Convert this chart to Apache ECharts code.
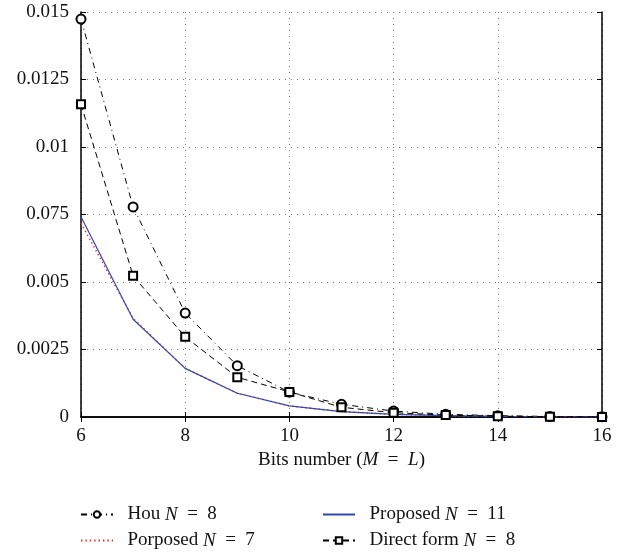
<!DOCTYPE html>
<html><head><meta charset="utf-8">
<script src="https://cdn.jsdelivr.net/npm/echarts@6/dist/echarts.min.js"></script>
<style>html,body{margin:0;padding:0;background:#fff}#c{width:622px;height:556px}</style>
</head><body><div id="c"></div>
<script>
const bits = [6, 7, 8, 9, 10, 11, 12, 13, 14, 15, 16];
const houN8 = [0.01474, 0.00778, 0.00385, 0.00190, 0.00092, 0.00047, 0.00022, 0.00010, 0.00005, 0.00002, 0.00001];
const porposedN7 = [0.00718, 0.00365, 0.00180, 0.00088, 0.00041, 0.00020, 0.00010, 0.00005, 0.00002, 0.00001, 0.00000];
const proposedN11 = [0.00742, 0.00362, 0.00180, 0.00088, 0.00041, 0.00020, 0.00010, 0.00005, 0.00002, 0.00001, 0.00000];
const directN8 = [0.01158, 0.00523, 0.00297, 0.00147, 0.00093, 0.00036, 0.00016, 0.00007, 0.00003, 0.00001, 0.00000];
const yTickLabels = ['0', '0.0025', '0.005', '0.075', '0.01', '0.0125', '0.015'];

const pairs = arr => bits.map((b, i) => [b, arr[i]]);
const FONT = '"Liberation Serif", "DejaVu Serif", serif';
const FS = 19;
const rich = { i: { fontStyle: 'italic', fontFamily: FONT, fontSize: FS, color: '#111' } };
const fmt = n => '\u2002' + n.replace('N', '{i|N}').replace(' = ', '\u2002=\u2002');

const chart = echarts.init(document.getElementById('c'), null, { renderer: 'canvas' });
const gridLine = { show: true, lineStyle: { color: '#777', type: [1, 5], width: 1 } };
const frameAxis = {
  axisLine: { show: true, lineStyle: { color: '#000', width: 1.5 } },
  axisTick: { show: true, inside: true, length: 5, lineStyle: { color: '#000' } }
};
const legendCommon = {
  orient: 'vertical', top: 505, height: 60, padding: 0, itemGap: 7, itemWidth: 32, itemHeight: 8,
  textStyle: { color: '#111', fontFamily: FONT, fontSize: FS, rich: rich },
  formatter: fmt
};
chart.setOption({
  animation: false,
  backgroundColor: '#fff',
  grid: { left: 81, right: 20, top: 12, bottom: 139 },
  xAxis: [Object.assign({
    type: 'value', min: 6, max: 16, interval: 2,
    axisLabel: { color: '#111', fontFamily: FONT, fontSize: FS, margin: 10 },
    splitLine: gridLine,
    name: 'Bits number ({i|M}\u2002=\u2002{i|L})', nameLocation: 'middle', nameGap: 30,
    nameTextStyle: { color: '#111', fontFamily: FONT, fontSize: FS, rich: rich }
  }, frameAxis), Object.assign({
    type: 'value', min: 6, max: 16, interval: 2, position: 'top',
    axisLabel: { show: false }, splitLine: { show: false }
  }, frameAxis)],
  yAxis: [Object.assign({
    type: 'value', min: 0, max: 0.015, interval: 0.0025,
    axisLabel: {
      color: '#111', fontFamily: FONT, fontSize: FS, margin: 12,
      formatter: v => yTickLabels[Math.round(v / 0.0025)]
    },
    splitLine: gridLine
  }, frameAxis), Object.assign({
    type: 'value', min: 0, max: 0.015, interval: 0.0025, position: 'right',
    axisLabel: { show: false }, splitLine: { show: false }
  }, frameAxis)],
  legend: [Object.assign({
    data: ['Hou N = 8', 'Porposed N = 7'], left: 80
  }, legendCommon), Object.assign({
    data: ['Proposed N = 11', 'Direct form N = 8'], left: 322
  }, legendCommon)],
  series: [{
    name: 'Hou N = 8', type: 'line', data: pairs(houN8),
    symbol: 'emptyCircle', symbolSize: 9,
    lineStyle: { color: '#000', width: 1, type: [6, 4, 1, 4] },
    itemStyle: { color: '#000', borderWidth: 1 }
  }, {
    name: 'Porposed N = 7', type: 'line', data: pairs(porposedN7),
    symbol: 'none', z: 1,
    lineStyle: { color: '#ff2020', width: 1.4, type: [1.4, 3], opacity: 1 },
    itemStyle: { color: '#ff2020', opacity: 0 }
  }, {
    name: 'Proposed N = 11', type: 'line', data: pairs(proposedN11),
    symbol: 'none',
    lineStyle: { color: '#3048b0', width: 1.2, type: 'solid', opacity: 1 },
    itemStyle: { color: '#3048b0', opacity: 0 }
  }, {
    name: 'Direct form N = 8', type: 'line', data: pairs(directN8),
    symbol: 'emptyRect', symbolSize: 8,
    lineStyle: { color: '#000', width: 1, type: [6, 4] },
    itemStyle: { color: '#000', borderWidth: 1 }
  }]
});
</script></body></html>
